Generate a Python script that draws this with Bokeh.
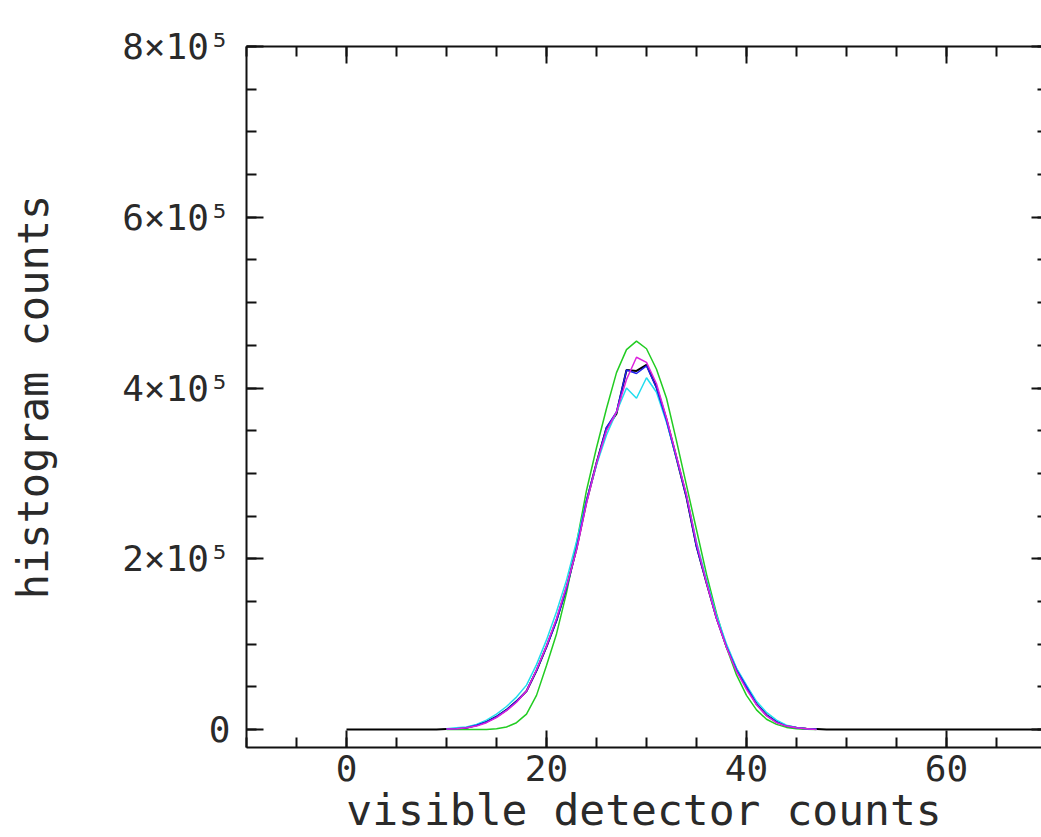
from bokeh.plotting import figure
from bokeh.models import LinearAxis, FixedTicker, CustomLabelingPolicy
from bokeh.embed import file_html
from bokeh.resources import INLINE

# ---- data (counts in thousands) ----
bins_all = list(range(0, 71))
bins_peak = list(range(10, 48))

black_k = [0, 0, 0, 0, 0, 0, 0, 0, 0, 0,
           0.5, 1, 2, 5, 9, 15, 23, 33, 45, 69, 97, 128, 166, 212, 267, 312, 353, 370,
           421, 420, 427, 401, 363, 318, 272, 215, 172, 131, 97, 70, 50, 30, 17, 9, 4, 2, 1, 0.5,
           0, 0, 0, 0, 0, 0, 0, 0, 0, 0, 0, 0, 0, 0, 0, 0, 0, 0, 0, 0, 0, 0, 0]

blue_k = [0.5, 1, 2, 5, 9, 15, 23, 33, 45, 69, 97, 127, 165, 212, 268, 312, 354, 372,
          421, 417, 426, 400, 362, 318, 272, 214, 172, 130, 97, 70, 50, 30, 17, 9, 4, 2, 1, 0.5]

magenta_k = [0.5, 1, 2, 4, 8, 14, 22, 32, 45, 70, 98, 130, 168, 210, 265, 312, 350, 372,
             410, 436, 430, 405, 365, 320, 275, 218, 172, 130, 96, 68, 47, 29, 16, 8, 4, 2, 1, 0]

cyan_k = [1, 2, 3, 6, 11, 18, 27, 38, 52, 76, 105, 138, 175, 220, 268, 310, 345, 372,
          400, 388, 412, 395, 360, 318, 274, 220, 175, 134, 100, 72, 52, 33, 20, 11, 5, 2.5, 1, 0.3]

green_k = [0, 0, 0, 0, 0, 1, 3, 8, 18, 40, 75, 112, 160, 218, 280, 330, 376, 418,
           445, 455, 446, 422, 388, 338, 286, 234, 182, 136, 96, 64, 40, 23, 12, 6, 2.5, 1, 0.3, 0]

x_major = [0, 20, 40, 60]
x_minor = list(range(-10, 75, 5))
y_major = [0, 200000, 400000, 600000, 800000]
y_minor = list(range(0, 850000, 50000))
y_labels = {0: "0", 200000: "2×10⁵", 400000: "4×10⁵", 600000: "6×10⁵", 800000: "8×10⁵"}

FONT = "DejaVu Sans Mono"
TXT = "#2a2a2a"

p = figure(width=1041, height=837, x_range=(-10, 69.5), y_range=(-21053, 800000),
           output_backend="svg", toolbar_location=None,
           min_border_left=246, min_border_top=46, min_border_right=0, min_border_bottom=0)
p.outline_line_color = None
p.xgrid.visible = False
p.ygrid.visible = False
p.background_fill_color = "white"
p.border_fill_color = "white"


def style_axis(ax, ticker):
    ax.ticker = ticker
    ax.axis_line_color = "#111111"
    ax.axis_line_width = 2
    ax.major_tick_line_color = "#111111"
    ax.major_tick_line_width = 2
    ax.minor_tick_line_color = "#111111"
    ax.minor_tick_line_width = 2
    ax.major_tick_out = 0
    ax.minor_tick_out = 0
    ax.major_tick_in = 17
    ax.minor_tick_in = 10
    ax.major_label_text_font = FONT
    ax.major_label_text_color = TXT
    ax.axis_label_text_font = FONT
    ax.axis_label_text_font_style = "normal"
    ax.axis_label_text_color = TXT


def no_labels(ax):
    ax.major_label_policy = CustomLabelingPolicy(
        code="const all = [...indices]; for (const i of all) indices.unset(i); return indices")
    ax.major_label_standoff = 0
    ax.major_label_text_font_size = "0px"


xt = FixedTicker(ticks=x_major, minor_ticks=x_minor)
yt = FixedTicker(ticks=y_major, minor_ticks=y_minor)

xa = p.xaxis[0]
style_axis(xa, xt)
xa.axis_label = "visible detector counts"
xa.axis_label_text_font_size = "43px"
xa.major_label_text_font_size = "36px"
xa.major_label_standoff = 7
xa.axis_label_standoff = 1

ya = p.yaxis[0]
style_axis(ya, yt)
ya.axis_label = "histogram counts"
ya.axis_label_text_font_size = "42px"
ya.major_label_text_font_size = "36px"
ya.major_label_standoff = 16
ya.axis_label_standoff = 61
ya.major_label_overrides = y_labels

top = LinearAxis()
style_axis(top, FixedTicker(ticks=x_major, minor_ticks=x_minor))
no_labels(top)
p.add_layout(top, "above")

right = LinearAxis()
style_axis(right, FixedTicker(ticks=y_major, minor_ticks=y_minor))
no_labels(right)
right.axis_line_color = None
right.major_tick_in = 10
right.minor_tick_in = 4
p.add_layout(right, "right")

k = 1000
p.line(bins_all, [v * k for v in black_k], line_color="#000000", line_width=2)
p.line(bins_peak, [v * k for v in green_k], line_color="#22cc22", line_width=1.5)
p.line(bins_peak, [v * k for v in cyan_k], line_color="#22ddee", line_width=1.5)
p.line(bins_peak, [v * k for v in blue_k], line_color="#2020ee", line_width=1.5)
p.line(bins_peak, [v * k for v in magenta_k], line_color="#dd22dd", line_width=1.5)

open("out.html", "w").write(file_html(p, INLINE))
